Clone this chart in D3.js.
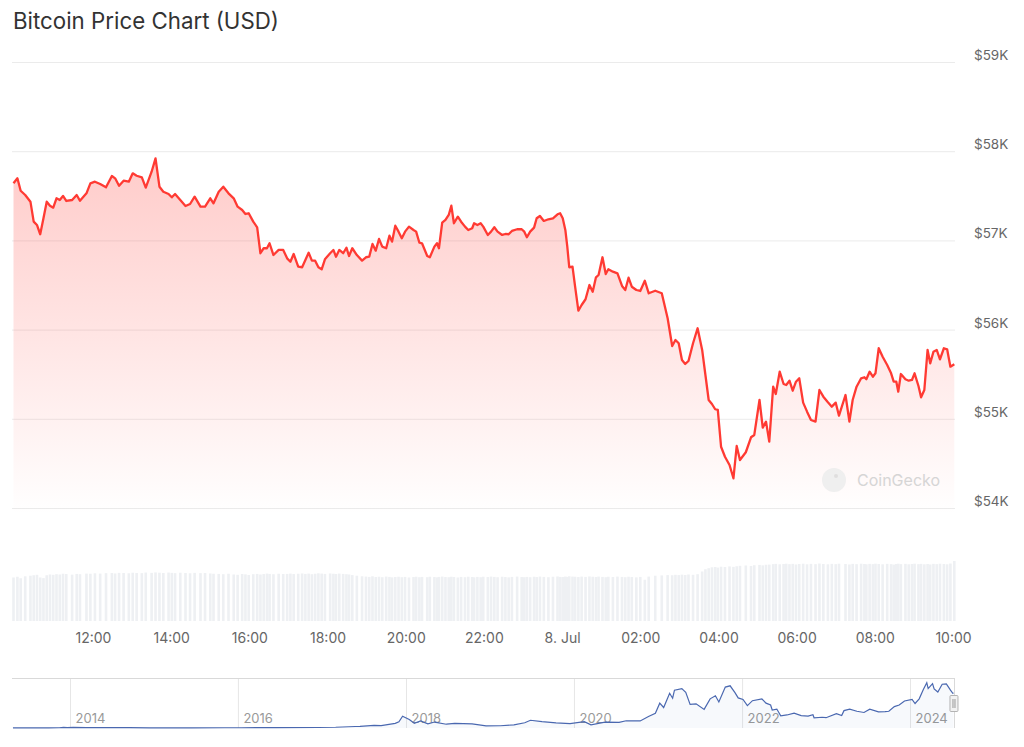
<!DOCTYPE html>
<html>
<head>
<meta charset="utf-8">
<script src="https://cdn.jsdelivr.net/npm/d3@7"></script>
<style>
  html, body { margin: 0; padding: 0; background: #ffffff; }
  svg { display: block; font-family: Inter, "Noto Sans", sans-serif; }
</style>
</head>
<body>
<svg id="chart" width="1024" height="747"></svg>
<script>
// ---------- DATA ----------
const chartTitle = "Bitcoin Price Chart (USD)";
const startTime = "2024-07-07T09:58:00";
// minutes after startTime for each price point
const minutes = [0,6,11,18,26,31,36,41,46,51,56,61,66,71,76,81,90,97,102,112,
118,125,133,142,151,156,162,169,177,183,189,197,203,212,218,224,230,238,243,248,
256,264,271,278,287,294,302,307,315,322,330,338,344,351,356,361,368,374,379,384,
389,393,399,407,414,420,425,430,437,443,448,453,458,463,468,473,478,486,491,495,
500,506,511,515,520,527,535,541,546,551,556,561,566,572,577,581,586,591,596,601,
607,614,618,623,627,635,639,646,650,653,658,663,668,672,676,682,687,693,698,704,
707,712,717,721,728,733,738,743,750,755,760,765,773,780,784,788,793,799,803,808,
814,821,828,835,839,843,847,850,853,858,862,867,872,878,884,889,894,898,904,909,
913,920,927,934,939,944,949,956,962,969,975,985,995,1004,1011,1016,1021,1026,1031,1036,
1043,1050,1057,1062,1067,1072,1077,1081,1086,1092,1099,1105,1110,1115,1124,1132,1137,1145,1150,1155,
1160,1166,1170,1176,1182,1186,1191,1196,1201,1206,1212,1218,1224,1231,1237,1243,1250,1256,1262,1267,
1277,1283,1288,1294,1301,1306,1309,1314,1319,1323,1328,1334,1341,1347,1351,1355,1358,1362,1369,1374,
1379,1383,1389,1393,1398,1403,1407,1412,1417,1422,1428,1433,1438,1444];
// BTC price in USD
const prices = [57640,57696,57557,57509,57434,57210,57173,57069,57248,57434,57389,57367,57472,57453,57498,57442,57453,57509,57445,57528,
57640,57658,57632,57595,57722,57696,57613,57669,57658,57752,57725,57707,57591,57770,57920,57602,57546,57520,57483,57520,
57453,57386,57408,57490,57378,57378,57472,57416,57546,57602,57528,57472,57378,57341,57296,57304,57210,57147,56856,56912,
56912,56968,56836,56893,56893,56799,56761,56848,56705,56699,56780,56862,56773,56773,56699,56676,56788,56856,56893,56817,
56893,56856,56918,56825,56912,56836,56773,56811,56817,56960,56885,57016,56930,56912,57053,56986,57165,57098,57024,57098,
57154,57117,57098,56974,56968,56825,56811,56930,56968,56912,57199,57229,57285,57389,57192,57266,57210,57154,57117,57136,
57192,57173,57192,57154,57061,57098,57147,57098,57061,57072,57069,57106,57125,57125,57098,57035,57098,57143,57248,57274,
57218,57237,57248,57293,57304,57248,57117,56930,56699,56705,56481,56212,56276,56340,56500,56425,56586,56612,56811,56623,
56676,56649,56631,56489,56444,56582,56481,56444,56433,56548,56407,56436,56407,56127,55816,55884,55847,55659,55615,55648,
55847,56015,55772,55491,55211,55166,55107,55099,54687,54575,54482,54333,54695,54538,54625,54793,54819,55211,54901,54968,
54744,55360,55278,55528,55390,55379,55427,55315,55416,55454,55181,55080,54987,54968,55323,55248,55185,55136,55181,55035,
55267,54968,55211,55360,55454,55466,55443,55528,55472,55510,55791,55696,55603,55510,55416,55416,55304,55502,55443,55427,
55435,55510,55368,55241,55323,55772,55622,55752,55772,55667,55791,55779,55584,55611];
// 24h trading volume (USD billions) at the same points
const volumes = [29.0,29.5,28.5,29.8,30.2,
30.5,30.8,29.0,28.6,30.5,31.0,30.8,
31.2,31.0,31.5,31.3,30.9,31.4,31.2,31.6,
31.5,31.8,31.6,31.9,32.0,31.7,32.1,32.0,31.8,32.2,32.0,31.9,32.3,32.1,
32.4,32.2,32.0,32.3,32.1,31.9,32.2,32.0,31.8,32.1,31.9,32.0,31.7,31.5,
31.4,31.2,31.5,31.0,30.8,31.3,31.1,30.7,31.2,31.4,31.0,31.3,31.6,31.4,31.2,31.5,31.3,
31.4,31.6,31.3,31.5,31.7,31.4,31.6,31.2,31.5,31.8,31.6,31.4,31.7,31.5,31.3,31.6,31.4,31.2,31.0,30.6,30.2,29.8,
29.6,29.4,29.8,29.3,29.5,29.2,29.6,29.4,29.1,29.3,29.5,29.2,29.4,29.0,29.3,29.5,29.2,
29.4,29.2,29.5,29.3,29.1,29.4,29.6,29.3,29.2,29.5,29.3,29.0,29.4,29.2,29.5,29.3,29.1,29.4,29.2,29.5,29.3,29.6,29.4,29.2,29.5,29.3,29.1,29.4,29.6,29.3,29.2,
29.4,29.2,29.5,29.3,29.6,29.4,29.2,29.5,29.7,29.4,29.3,29.6,29.4,29.8,29.6,29.5,29.3,29.6,29.4,29.7,29.5,29.3,29.6,29.4,29.2,29.5,29.3,29.6,29.4,29.2,29.5,29.3,29.1,29.4,
27.5,29.6,30.2,30.4,30.6,30.5,30.8,30.6,30.9,30.7,31.0,30.8,31.2,
33.0,34.5,35.2,35.8,36.0,35.6,36.2,36.0,36.4,36.1,
36.5,36.8,37.0,36.7,37.2,37.4,37.1,37.5,
37.6,37.9,38.1,37.8,38.0,38.2,37.9,38.1,37.7,38.0,38.2,37.8,38.1,37.9,38.3,38.0,37.8,38.1,37.9,38.2,
38.0,37.7,38.1,37.9,38.2,38.0,37.8,38.1,37.9,38.2,38.0,37.8,38.1,37.9,37.6,38.0,38.2,37.9,38.1,37.8,
38.0,38.2,37.9,38.1,37.8,38.0,37.7,38.1,37.9,38.2,38.0,37.8,38.3,40.0];

const yTickValues = [54000, 55000, 56000, 57000, 58000, 59000];
const xTickTimes = ["2024-07-07T12:00","2024-07-07T14:00","2024-07-07T16:00","2024-07-07T18:00",
  "2024-07-07T20:00","2024-07-07T22:00","2024-07-08T00:00","2024-07-08T02:00","2024-07-08T04:00",
  "2024-07-08T06:00","2024-07-08T08:00","2024-07-08T10:00"];

// navigator: full price history
const navDates = ["2013-04-28","2013-07-05","2013-10-01","2013-11-15","2013-12-04","2013-12-20","2014-01-15","2014-03-15","2014-06-01","2014-09-15",
"2014-12-15","2015-01-15","2015-06-15","2015-11-05","2016-01-15","2016-06-15","2016-12-15","2017-03-01","2017-05-25","2017-06-15",
"2017-08-15","2017-09-15","2017-11-15","2017-12-01","2017-12-17","2018-01-15","2018-02-06","2018-03-05","2018-04-06","2018-05-05",
"2018-06-25","2018-08-01","2018-10-15","2018-12-15","2019-02-15","2019-04-15","2019-06-01","2019-06-26","2019-08-15","2019-10-15",
"2019-12-15","2020-02-15","2020-03-15","2020-05-15","2020-07-15","2020-08-15","2020-10-15","2020-11-20","2020-12-20","2021-01-08",
"2021-01-25","2021-02-20","2021-03-05","2021-03-13","2021-04-14","2021-05-01","2021-05-20","2021-06-15","2021-07-20","2021-08-15",
"2021-09-07","2021-09-22","2021-10-20","2021-11-10","2021-12-01","2021-12-15","2022-01-05","2022-01-24","2022-02-15","2022-03-28",
"2022-04-15","2022-05-05","2022-05-12","2022-06-01","2022-06-18","2022-07-15","2022-08-15","2022-09-15","2022-10-15","2022-11-05",
"2022-11-10","2022-12-15","2023-01-01","2023-02-15","2023-03-10","2023-03-20","2023-04-14","2023-05-15","2023-06-15","2023-07-10",
"2023-08-17","2023-09-15","2023-10-01","2023-10-25","2023-11-15","2023-12-08","2024-01-10","2024-01-23","2024-02-10","2024-02-28",
"2024-03-14","2024-03-20","2024-04-08","2024-04-15","2024-05-01","2024-05-20","2024-06-07","2024-06-25","2024-07-05","2024-07-08"];
const navPrices = [130,80,125,420,1100,700,900,600,640,470,
330,220,240,380,390,680,800,1200,2400,2600,
4200,3800,7500,10000,19000,13800,7500,11400,6800,9600,
6100,7600,6500,3400,3600,5100,8500,12500,10300,8300,
7100,10100,5200,9600,9200,11700,11400,18600,23800,40000,
33000,56000,48000,61000,63500,57500,38000,39000,30000,47000,
52000,42000,66000,68000,57000,48500,46000,36000,44000,47000,
40000,37000,29000,30500,19500,21000,24000,20000,19300,21300,
16500,17300,16600,23000,20000,28000,30500,27000,25000,30300,
26000,26500,27000,34500,37000,43500,46000,39500,47000,62000,
73000,63500,71500,63000,58000,70500,71000,61000,56000,56600];
const navTickYears = ["2014","2016","2018","2020","2022","2024"];

// ---------- DRAW ----------
const svg = d3.select("#chart");
const t0 = new Date(startTime);
const pts = prices.map((p, i) => ({ t: new Date(t0.getTime() + minutes[i] * 60000), v: p, vol: volumes[i] }));

const x = d3.scaleTime()
  .domain([new Date("2024-07-07T10:00:00"), new Date("2024-07-08T10:00:00")])
  .range([14.8, 953]);
const y = d3.scaleLinear().domain([54000, 59000]).range([508, 62]);
const yVol = d3.scaleLinear().domain([0, 40]).range([621, 561]);

// title
svg.append("text").attr("x", 13).attr("y", 29)
  .attr("font-size", 22.3).attr("fill", "#333333").text(chartTitle);

// gridlines
const gridG = svg.append("g")
  .attr("transform", "translate(12,0)")
  .call(d3.axisLeft(y).tickValues(yTickValues).tickSize(-943).tickFormat(""));
gridG.select(".domain").remove();
gridG.selectAll(".tick line").attr("stroke", "#ebebeb").attr("stroke-width", 1);

// y labels
const yAx = svg.append("g")
  .attr("transform", "translate(974,0)")
  .call(d3.axisRight(y).tickValues(yTickValues).tickSize(0).tickPadding(0)
    .tickFormat(d => "$" + (d / 1000) + "K"));
yAx.select(".domain").remove();
yAx.selectAll("text").attr("font-family", "Inter, sans-serif").attr("font-size", 13.5)
  .attr("fill", "#666666").attr("dy", null).attr("y", -2.5).attr("x", 0).attr("text-anchor", "start");

// gradient
const defs = svg.append("defs");
const grad = defs.append("linearGradient").attr("id", "areaGrad")
  .attr("gradientUnits", "userSpaceOnUse").attr("x1", 0).attr("x2", 0)
  .attr("y1", y(58500)).attr("y2", 515);
grad.append("stop").attr("offset", 0).attr("stop-color", "#ff3a33").attr("stop-opacity", 0.3);
grad.append("stop").attr("offset", 1).attr("stop-color", "#ff3a33").attr("stop-opacity", 0.0);

// volume bars
svg.append("g").selectAll("rect").data(pts.filter(d => d.vol != null)).join("rect")
  .attr("x", d => x(d.t) - 1.3)
  .attr("width", 2.6)
  .attr("y", d => yVol(d.vol))
  .attr("height", d => yVol(0) - yVol(d.vol))
  .attr("fill", "#eef0f3");

// area + line
const area = d3.area().x(d => x(d.t)).y0(515).y1(d => y(d.v));
svg.append("path").datum(pts).attr("d", area).attr("fill", "url(#areaGrad)");
const line = d3.line().x(d => x(d.t)).y(d => y(d.v));
svg.append("path").datum(pts).attr("d", line).attr("fill", "none")
  .attr("stroke", "#ff3a33").attr("stroke-width", 2.3).attr("stroke-linejoin", "round");

// watermark
const wm = svg.append("g").attr("opacity", 0.9);
wm.append("circle").attr("cx", 834).attr("cy", 480).attr("r", 12).attr("fill", "#eeeeee");
wm.append("circle").attr("cx", 836).attr("cy", 476).attr("r", 2).attr("fill", "#dcdcdc");
wm.append("text").attr("x", 857).attr("y", 486).attr("font-size", 16)
  .attr("fill", "#d2d2d2").text("CoinGecko");

// x axis
const xAx = svg.append("g").attr("transform", "translate(0,621)")
  .call(d3.axisBottom(x).tickValues(xTickTimes.map(s => new Date(s))).tickSize(0)
    .tickFormat(d => (d.getHours() === 0 ? d3.timeFormat("%-d. %b")(d) : d3.timeFormat("%H:%M")(d))));
xAx.select(".domain").remove();
xAx.selectAll("text").attr("font-family", "Inter, sans-serif").attr("font-size", 14)
  .attr("fill", "#666666").attr("dy", null).attr("y", 22);

// ---------- NAVIGATOR ----------
const nx = d3.scaleTime().domain([new Date("2014-01-01"), new Date("2024-01-01")]).range([70, 910]);
const ny = d3.scaleLinear().domain([0, 73000]).range([728, 682.7]);
const navG = svg.append("g");
const navAx = navG.append("g").attr("transform", "translate(0,728)")
  .call(d3.axisBottom(nx).tickValues(navTickYears.map(s => new Date(s + "-01-01"))).tickSize(-50)
    .tickFormat(d3.timeFormat("%Y")));
navAx.select(".domain").remove();
navAx.selectAll(".tick line").attr("stroke", "#e6e6e6");
navAx.selectAll("text").attr("font-family", "Inter, sans-serif").attr("font-size", 13)
  .attr("fill", "#999999").attr("dy", null).attr("y", -5.5).attr("x", 5).attr("text-anchor", "start");

navG.append("line").attr("x1", 12).attr("x2", 955).attr("y1", 678.5).attr("y2", 678.5)
  .attr("stroke", "#d9d9d9");
navG.append("line").attr("x1", 954.5).attr("x2", 954.5).attr("y1", 678).attr("y2", 728)
  .attr("stroke", "#d9d9d9");

const navPts = navDates.map((d, i) => ({ t: new Date(d), v: navPrices[i] }));
navG.append("path").datum(navPts)
  .attr("d", d3.area().x(d => nx(d.t)).y0(728).y1(d => ny(d.v)))
  .attr("fill", "#335cad").attr("fill-opacity", 0.04);
navG.append("path").datum(navPts)
  .attr("d", d3.line().x(d => nx(d.t)).y(d => ny(d.v)))
  .attr("fill", "none").attr("stroke", "#4a68b0").attr("stroke-width", 1.2);

// handle
const hx = nx(new Date("2024-07-08"));
navG.append("rect").attr("x", hx - 3.5).attr("y", 695.5).attr("width", 8).attr("height", 16)
  .attr("fill", "#f2f2f2").attr("stroke", "#b3b3b3").attr("rx", 1);
navG.append("line").attr("x1", hx - 0.5).attr("x2", hx - 0.5).attr("y1", 699).attr("y2", 708).attr("stroke", "#999");
navG.append("line").attr("x1", hx + 1.5).attr("x2", hx + 1.5).attr("y1", 699).attr("y2", 708).attr("stroke", "#999");
</script>
</body>
</html>
